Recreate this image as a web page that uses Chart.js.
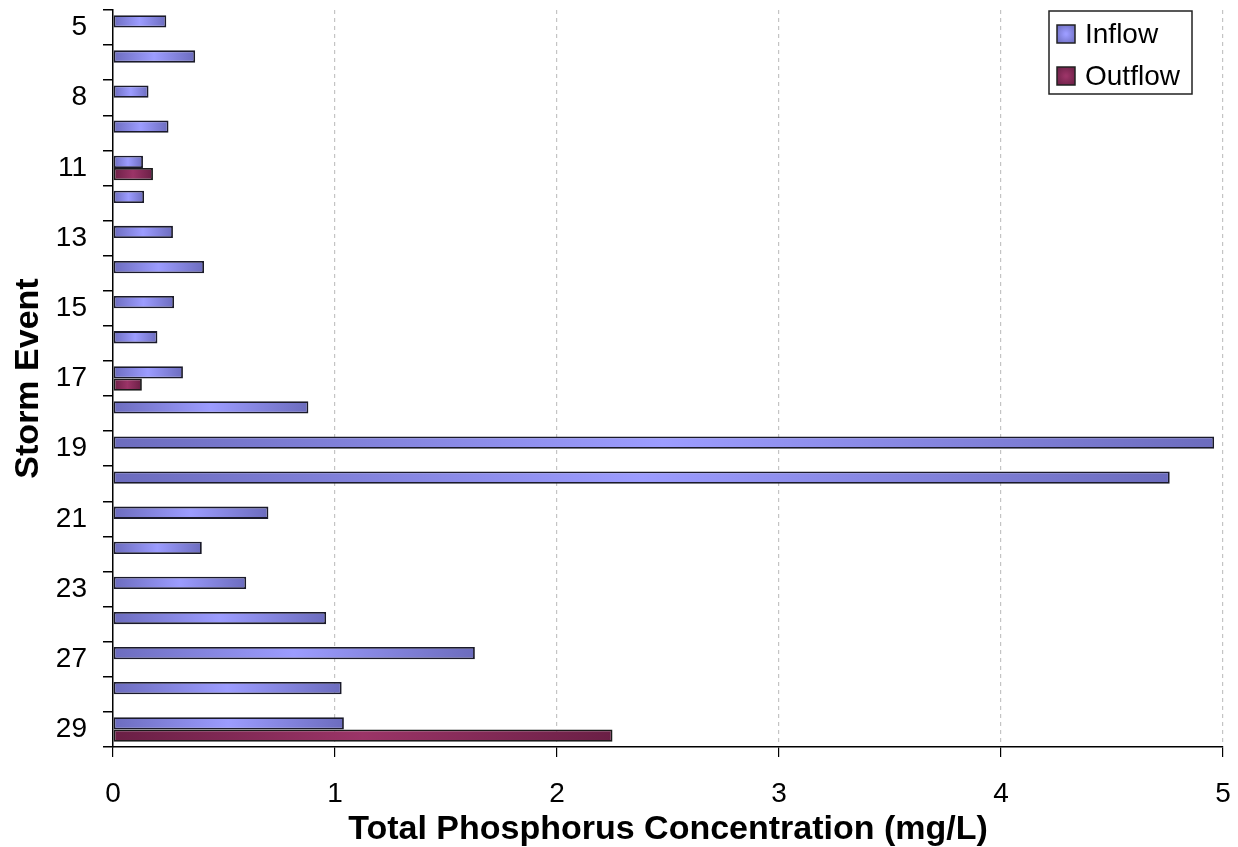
<!DOCTYPE html>
<html>
<head>
<meta charset="utf-8">
<script src="https://cdn.jsdelivr.net/npm/chart.js@4"></script>
<style>
  body { margin: 0; background: #fff; }
</style>
</head>
<body>
<canvas id="myChart" width="1238" height="847"></canvas>
<script>
// storm events (only every other one gets a label, like the original)
var storms = ['5', '6', '8', '9', '11', '12', '13', '14', '15', '16', '17',
              '18', '19', '20', '21', '22', '23', '24', '27', '28', '29'];
var inflow = [0.24, 0.37, 0.16, 0.25, 0.135, 0.14, 0.27, 0.41, 0.275, 0.2, 0.315,
              0.88, 4.96, 4.76, 0.70, 0.40, 0.60, 0.96, 1.63, 1.03, 1.04];
var outflow = [null, null, null, null, 0.18, null, null, null, null, null, 0.13,
               null, null, null, null, null, null, null, null, null, 2.25];
var xTicks = [0, 1, 2, 3, 4, 5];

var inflowColors = ['#6C6CBE', '#9C9CFF'];
var outflowColors = ['#6A1F45', '#9B3467'];

Chart.defaults.font.family = '"Liberation Sans", Arial, sans-serif';
Chart.defaults.color = '#000';

// dark - light - dark gradient along each bar
function barGradient(c, cols) {
    var chart = c.chart;
    if (!chart.chartArea || !chart.scales.x || c.raw == null) return cols[1];
    var x0 = chart.scales.x.getPixelForValue(0);
    var x1 = chart.scales.x.getPixelForValue(c.raw);
    if (x1 - x0 < 1) return cols[1];
    var g = chart.ctx.createLinearGradient(x0, 0, x1, 0);
    g.addColorStop(0, cols[0]);
    g.addColorStop(0.5, cols[1]);
    g.addColorStop(1, cols[0]);
    return g;
}

var boxLegend = {
    id: 'boxLegend',
    afterDraw: function(chart) {
        var ctx = chart.ctx;
        ctx.save();
        ctx.fillStyle = '#fff';
        ctx.fillRect(1049, 11, 143, 83);
        ctx.lineWidth = 1.5;
        ctx.strokeStyle = '#222';
        ctx.strokeRect(1049, 11, 143, 83);
        var items = [['Inflow', inflowColors, 34], ['Outflow', outflowColors, 76]];
        items.forEach(function(it) {
            var g = ctx.createRadialGradient(1066, it[2], 1, 1066, it[2], 12);
            g.addColorStop(0, it[1][1]);
            g.addColorStop(1, it[1][0]);
            ctx.fillStyle = g;
            ctx.fillRect(1057, it[2] - 9, 18, 18);
            ctx.lineWidth = 1.5;
            ctx.strokeStyle = '#222';
            ctx.strokeRect(1057, it[2] - 9, 18, 18);
            ctx.fillStyle = '#000';
            ctx.font = '28px "Liberation Sans", Arial, sans-serif';
            ctx.textBaseline = 'middle';
            ctx.textAlign = 'left';
            ctx.fillText(it[0], 1085, it[2] + 1);
        });
        ctx.restore();
    }
};

var chart = new Chart(document.getElementById('myChart'), {
    type: 'bar',
    data: {
        labels: storms,
        datasets: [{
            label: 'Inflow',
            data: inflow,
            backgroundColor: function(c) { return barGradient(c, inflowColors); },
            borderColor: '#1a1a2a',
            borderWidth: 1.8,
            borderSkipped: false,
            categoryPercentage: 0.7,
            barPercentage: 1.0
        }, {
            label: 'Outflow',
            data: outflow,
            backgroundColor: function(c) { return barGradient(c, outflowColors); },
            borderColor: '#1a1a1a',
            borderWidth: 1.8,
            borderSkipped: false,
            categoryPercentage: 0.7,
            barPercentage: 1.0
        }]
    },
    options: {
        indexAxis: 'y',
        responsive: false,
        animation: false,
        layout: { padding: { top: 10, right: 15, left: 0, bottom: 0 } },
        plugins: {
            legend: { display: false },
            tooltip: { enabled: false }
        },
        scales: {
            x: {
                min: 0,
                max: 5,
                afterFit: function(axis) {
                    axis.height = 100;
                    axis.paddingLeft = 0;
                    axis.paddingRight = 0;
                },
                afterBuildTicks: function(axis) {
                    axis.ticks = xTicks.map(function(v) { return { value: v }; });
                },
                ticks: { font: { size: 28 }, padding: 20, maxRotation: 0 },
                grid: {
                    color: function(c) { return c.index === 0 ? 'rgba(0,0,0,0)' : '#c4c4c4'; },
                    lineWidth: 1.2,
                    tickColor: '#000',
                    tickLength: 10
                },
                border: { color: '#000', width: 1.5, dash: [4, 4] },
                title: {
                    display: true,
                    text: 'Total Phosphorus Concentration (mg/L)',
                    font: { size: 34, weight: 'bold' },
                    padding: { top: 0, bottom: -3 }
                }
            },
            y: {
                afterFit: function(axis) {
                    axis.width = 113;
                    axis.paddingTop = 0;
                    axis.paddingBottom = 0;
                },
                ticks: {
                    autoSkip: false,
                    font: { size: 28 },
                    padding: 16,
                    callback: function(v, i) { return i % 2 === 0 ? storms[i] : ''; }
                },
                grid: {
                    offset: true,
                    drawOnChartArea: false,
                    tickColor: '#000',
                    tickLength: 10,
                    lineWidth: 1.5
                },
                border: { color: '#000', width: 1.5 },
                title: {
                    display: true,
                    text: 'Storm Event',
                    font: { size: 34, weight: 'bold' },
                    padding: { top: 8, bottom: 0 }
                }
            }
        }
    },
    plugins: [boxLegend]
});
</script>
</body>
</html>
